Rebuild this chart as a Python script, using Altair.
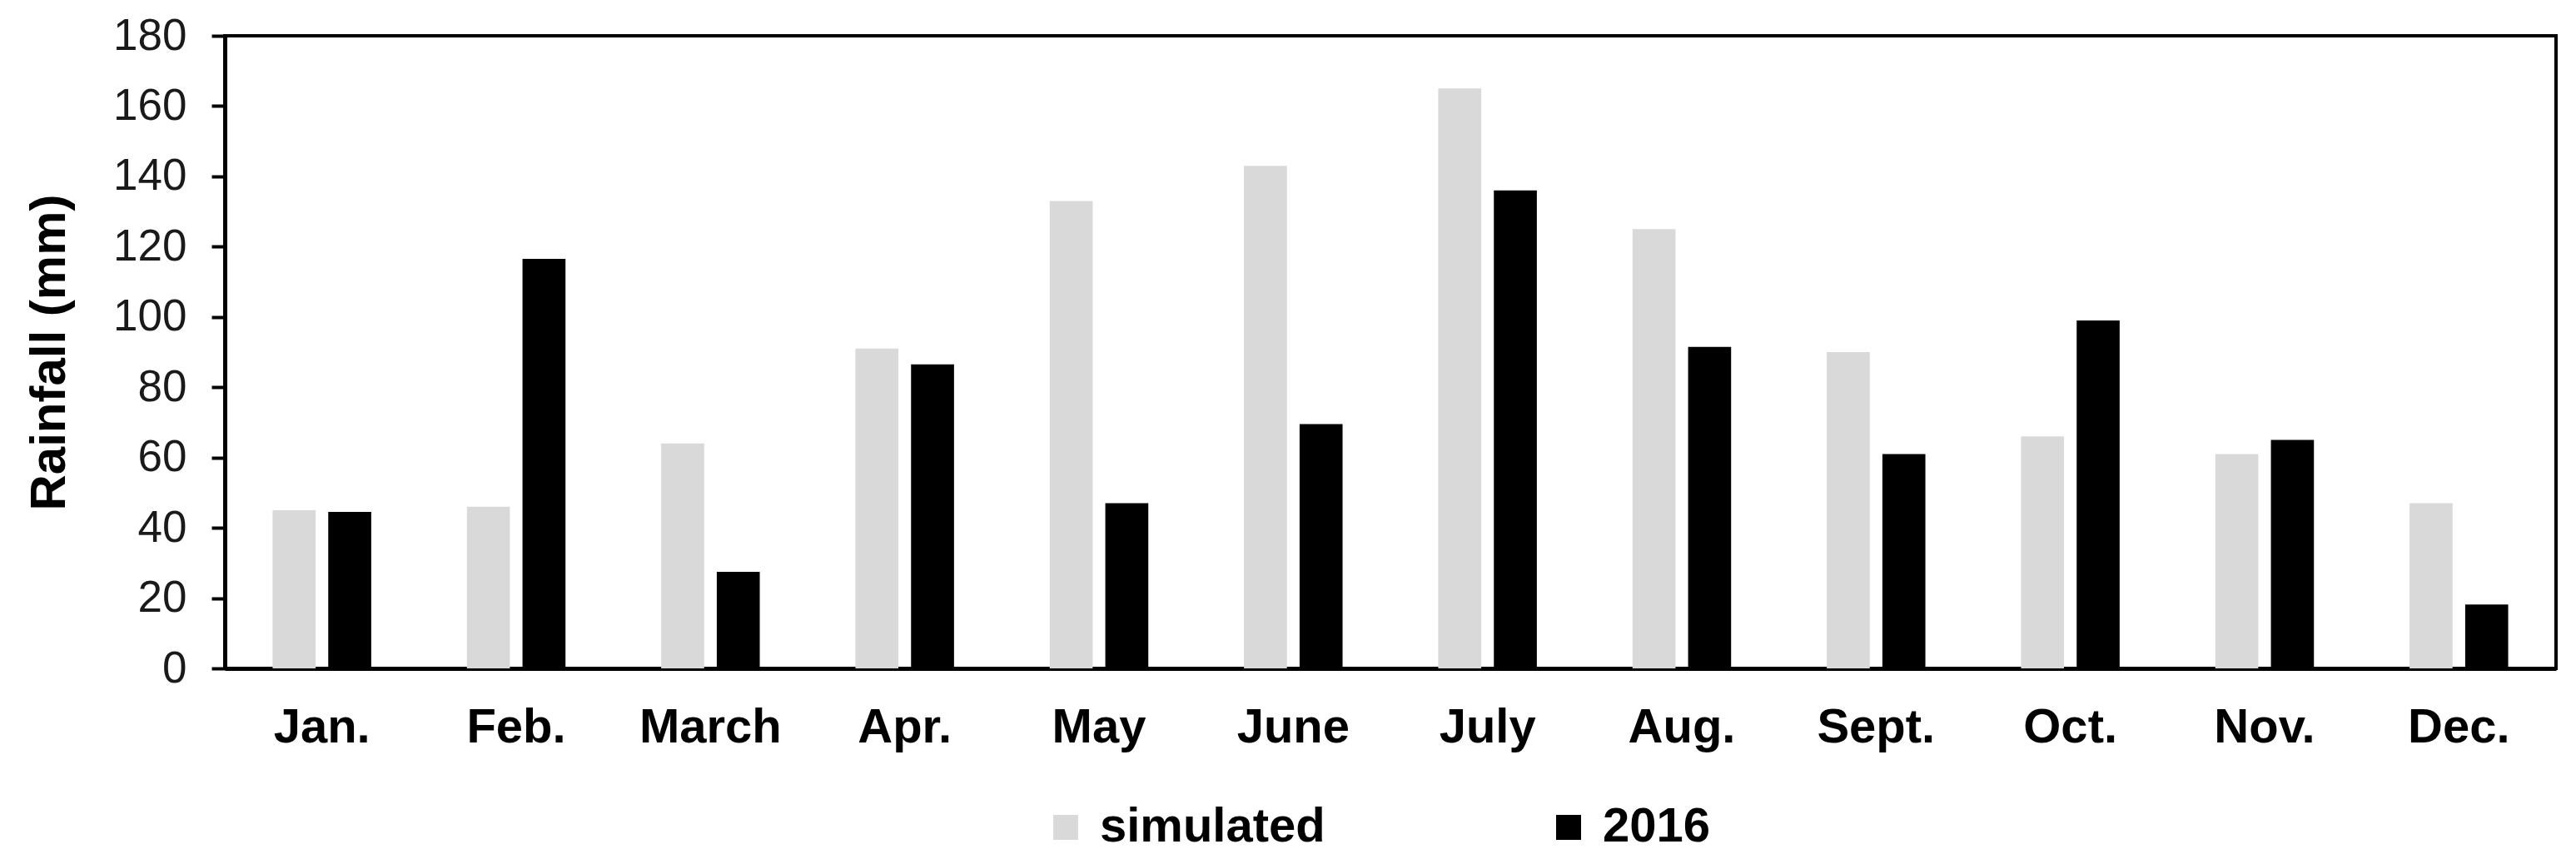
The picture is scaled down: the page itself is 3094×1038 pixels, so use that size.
import altair as alt
import pandas as pd

months = ["Jan.", "Feb.", "March", "Apr.", "May", "June", "July", "Aug.", "Sept.", "Oct.", "Nov.", "Dec."]
simulated = [45, 46, 64, 91, 133, 143, 165, 125, 90, 66, 61, 47]
obs_2016 = [44.5, 116.5, 27.5, 86.5, 47, 69.5, 136, 91.5, 61, 99, 65, 18.2]
series = ["simulated", "2016"]
colors = ["#d9d9d9", "#000000"]
y_ticks = [0, 20, 40, 60, 80, 100, 120, 140, 160, 180]

rows = []
for m, s, o in zip(months, simulated, obs_2016):
    rows.append({"month": m, "series": "simulated", "value": s})
    rows.append({"month": m, "series": "2016", "value": o})
df = pd.DataFrame(rows)

FONT = "Liberation Sans"

chart = alt.Chart(df).mark_bar().encode(
    x=alt.X("month:N", sort=months,
            scale=alt.Scale(paddingInner=0, paddingOuter=0),
            axis=alt.Axis(title=None, labelAngle=0, ticks=False, labelPadding=42,
                          labelFontSize=58, labelFontWeight="bold", labelFont=FONT,
                          labelColor="#000000", domainColor="#000000", domainWidth=5)),
    xOffset=alt.XOffset("series:N", sort=series,
                        scale=alt.Scale(paddingInner=0.227, paddingOuter=0.86)),
    y=alt.Y("value:Q", scale=alt.Scale(domain=[0, 180], nice=False),
            axis=alt.Axis(title="Rainfall (mm)", values=y_ticks, grid=False,
                          tickSize=16, tickWidth=4, tickColor="#000000",
                          labelPadding=30, labelFontSize=53, labelFont=FONT,
                          labelColor="#1a1a1a", domainColor="#000000", domainWidth=5,
                          titleFontSize=60, titleFontWeight="bold", titleFont=FONT,
                          titleColor="#000000", titlePadding=45)),
    color=alt.Color("series:N", sort=series,
                    scale=alt.Scale(domain=series, range=colors),
                    legend=alt.Legend(orient="none", legendX=981, legendY=922,
                                      direction="horizontal", title=None,
                                      symbolType="square", symbolSize=900,
                                      symbolStrokeWidth=0, labelLimit=0,
                                      labelFontSize=58, labelFontWeight="bold",
                                      labelFont=FONT, labelColor="#000000",
                                      columnPadding=263, labelOffset=12)),
).properties(
    width=2800, height=760,
    autosize=alt.AutoSizeParams(type="none"),
    padding={"left": 262, "top": 35, "right": 16, "bottom": 226},
).configure_view(stroke="#000000", strokeWidth=4)

chart.save("out.html", embed_options={"renderer": "svg", "actions": False})
